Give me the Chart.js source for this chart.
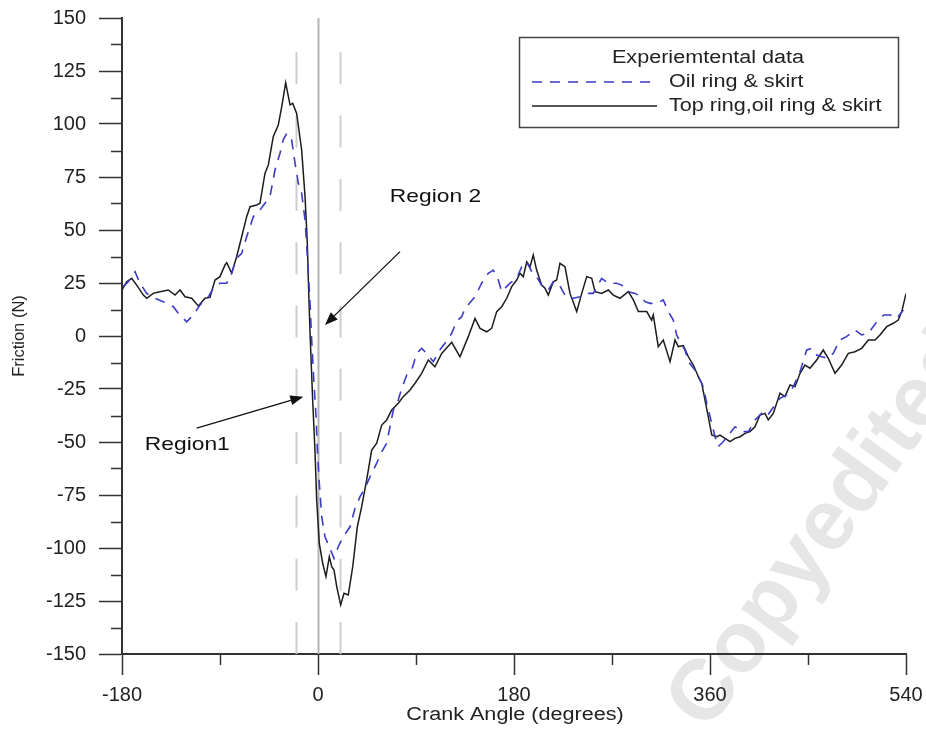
<!DOCTYPE html>
<html>
<head>
<meta charset="utf-8">
<script src="https://cdn.jsdelivr.net/npm/chart.js@4.4.1/dist/chart.umd.min.js"></script>
<style>
  html, body { margin: 0; padding: 0; background: #fff; }
  #wrap { width: 926px; height: 729px; }
</style>
</head>
<body>
<div id="wrap"><canvas id="c" width="926" height="729"></canvas></div>
<script>
// ── DATA ──────────────────────────────────
const seriesNames = ['Oil ring & skirt', 'Top ring,oil ring & skirt'];

const oilAngle = [
  -179, -174.2, -168.1, -163.5, -157.3, -149.7, -142.1, -132.9, -128.3, -120.6,
  -114.5, -108.4, -100.7, -96.2, -90, -83.8, -79.3, -74.7, -70.1, -65.5,
  -59.4, -53.3, -48.7, -44.1, -39.5, -34.9, -31.9, -28.7, -24.2, -21.1,
  -18.1, -15, -11.9, -9.5, -7.3, -5.8, -3.7, -1.8, -0.6, 1.2,
  3.4, 6.4, 10.4, 14.7, 18.6, 23.2, 29.4, 34, 38.6, 43.2,
  47.8, 53.9, 58.5, 63.1, 66.1, 69.2, 73.7, 76.9, 81.5, 86.1,
  90.6, 95.2, 99.8, 105.9, 112, 116.6, 122.8, 127.4, 132, 135,
  144.2, 150.3, 156.4, 161, 165.6, 168.7, 176.3, 182.5, 187.1, 191.7,
  196.3, 200.8, 206.9, 211.5, 216.1, 220.7, 228.4, 234.5, 240.6, 246.8,
  252.8, 260.5, 266.6, 274.3, 278.9, 285, 291.1, 297.3, 300.3, 304.9,
  311.1, 317.1, 321.7, 326.3, 329.4, 332.4, 337, 340.1, 346.2, 350.8,
  353.8, 357, 361.6, 364.6, 367.6, 372.3, 376.9, 383, 389.1, 395.2,
  401.3, 407.5, 412.1, 419.7, 424.3, 430.4, 436.5, 442.7, 448.8, 453.3,
  458, 462.6, 468.6, 473.2, 479.3, 485.4, 493.1, 499.3, 505.4, 513.1,
  519.6, 525.7, 531.5, 537.6
];
const oilFriction = [
  23.3, 25.6, 30.3, 24.9, 20.1, 17.8, 16.2, 13.8, 10.7, 6.7,
  9.9, 14.6, 18.5, 22.5, 24.9, 24.9, 29.6, 36.6, 39, 46.8,
  56.3, 59.4, 62.6, 65.7, 78.3, 86.2, 92.5, 95.6, 92.5, 81.5,
  72, 67.3, 54.7, 35.8, 15.4, -1.9, -22.3, -38, -53.8, -69.5,
  -85.2, -94.7, -99.4, -104.9, -99.4, -94.7, -90, -81.3, -75.8, -71.8,
  -66.4, -60, -54.6, -50.6, -42.8, -34.9, -30.2, -24.7, -18.4, -16,
  -8.2, -5.8, -8.2, -12.1, -6.5, -3.4, 1.3, 7, 9.1, 13,
  18.5, 24.9, 29.6, 31.1, 26.4, 20.9, 24.9, 27.2, 32.7, 35,
  30.3, 28, 22.5, 21.7, 25.6, 24.9, 17.8, 17.8, 18.5, 20.1,
  20.1, 27.2, 24.9, 24.9, 24, 20.9, 20.1, 18.5, 16.2, 15.4,
  15.4, 17, 11.5, 7.5, 0.5, -2.7, -6.6, -12.1, -16, -20.8,
  -23.9, -31.7, -41.2, -47.5, -52.2, -49.8, -46.7, -42.8, -45.1, -45.1,
  -39.6, -36.5, -38, -32.5, -29.4, -27.8, -23.9, -16.8, -6.6, -5.8,
  -9, -9.8, -10.5, -8.2, -1.9, -0.3, 2.8, 0.5, 1.3, 6.7,
  9.9, 9.9, 8.3, 12.3
];

const topAngle = [
  -180, -175.7, -171.1, -166.5, -160.4, -157.3, -151.3, -145.1, -137.5, -131.3,
  -126.7, -122.1, -116, -109.9, -103.8, -99.2, -94.6, -90, -85.4, -83.8,
  -79.3, -74.7, -70.1, -65.5, -62.4, -56.3, -53.3, -48.7, -45.6, -41.1,
  -36.5, -33.3, -29.7, -25.7, -23.2, -19.6, -15, -11.9, -9.8, -8.5,
  -7.2, -4.9, -2.8, -1.2, 1.2, 4.3, 7.3, 10.4, 12.6, 14.7,
  17.2, 20.8, 23.9, 27.8, 31.9, 36.1, 40.1, 44.7, 49.3, 53.9,
  58.5, 63.1, 67.7, 73.7, 78.3, 84.5, 89.1, 95.2, 101.3, 107.4,
  113.6, 122.8, 130.4, 138, 144.2, 148.8, 154.9, 159.5, 164.1, 168.7,
  173.3, 177.9, 182.5, 185.5, 188.5, 191.7, 194.7, 197.7, 200.8, 205.4,
  208.5, 211.5, 216.1, 219.2, 222.2, 226.8, 231.4, 237.6, 242.2, 246.8,
  251.4, 254.4, 260.5, 266.6, 271.2, 277.3, 285, 289.6, 294.2, 301.9,
  306.4, 307.9, 312.5, 317.1, 323.3, 327.9, 330.9, 335.5, 340.1, 344.7,
  349.3, 352.4, 355.4, 358.4, 361.6, 366.2, 369.2, 373.8, 378.4, 383,
  387.6, 392.2, 396.7, 401.3, 405.9, 410.5, 413.5, 418.1, 424.3, 428.9,
  433.5, 438.1, 442.7, 447.2, 451.8, 458, 464, 468.6, 474.8, 480.9,
  487, 493.1, 499.3, 505.4, 511.5, 516.1, 522.3, 528.3, 532.9, 536.1,
  540
];
const topFriction = [
  21.7, 25.6, 27.2, 24, 19.3, 17.8, 20.1, 20.9, 21.7, 19.3,
  21.7, 18.5, 17.8, 14.2, 17.8, 18.2, 26.4, 28, 33.5, 34.6,
  29.6, 37.4, 46.8, 56.3, 61, 61.8, 62.6, 76.7, 80.7, 94,
  99.5, 108.2, 119.5, 109, 109.7, 105, 87.7, 65.7, 43.7, 20,
  0, -30.2, -53.8, -77.4, -97.8, -107.2, -113.5, -104.1, -108.8, -110.4,
  -118.2, -126.9, -121.4, -122.2, -108.8, -90, -80.5, -67.9, -53.8, -50.6,
  -42, -39.6, -34.9, -31.7, -28.6, -25.5, -22.3, -17.6, -11.3, -14.5,
  -8.2, -3, -9.8, -0.3, 8.3, 3.6, 2, 3.6, 11.5, 13.8,
  17.8, 23.3, 26.4, 29.6, 28, 35, 32.7, 38.2, 31.1, 24,
  22.5, 19.3, 25.6, 26.4, 34.3, 32.7, 20.1, 11.5, 20.1, 28,
  27.2, 20.9, 20.1, 21.7, 19.3, 17.8, 20.9, 17, 11.5, 11.5,
  7.5, 9.9, -5, -1.9, -12.1, -1.9, -5, -4.5, -9.8, -13.7,
  -19.2, -22.3, -30.2, -38, -46.7, -47.5, -46.7, -48.3, -49.8, -48.3,
  -47.5, -45.9, -45.1, -42.8, -37.3, -36.5, -39.6, -36.5, -27, -28.6,
  -23.1, -23.9, -17.6, -13.7, -15.2, -11.3, -6.6, -10.5, -17.6, -13.7,
  -8.2, -7.4, -5.8, -1.9, -1.9, 0.5, 4.4, 6, 7.5, 11.5,
  20
];

// ticks and annotations (data units)
const xMin = -180, xMax = 540, xMajor = 180, xMinor = 90;
const yMin = -150, yMax = 150, yMajor = 25, yMinor = 12.5;
const regionAngles = [0, -20, 20];          // solid centre line, dashed bounds
const regionLabels = [
  { text: 'Region 2', x: 66, y: 65.5, from: [75.3, 39.8], to: [6.4, 5.2] },
  { text: 'Region1',  x: -159, y: -51.5, from: [-111.4, -43.5], to: [-13.5, -28.6] }
];

// ── HELPERS ───────────────────────────────
const FONT = '"Liberation Sans", Arial, sans-serif';
const WIDE = 1.2;   // the original figure is stretched sideways

function wideText(ctx, txt, x, y, align) {
  ctx.save();
  ctx.translate(x, y);
  ctx.scale(WIDE, 1);
  ctx.textAlign = align || 'left';
  ctx.textBaseline = 'middle';
  ctx.fillText(txt, 0, 0);
  ctx.restore();
}

function arrow(ctx, x1, y1, x2, y2) {
  const a = Math.atan2(y2 - y1, x2 - x1);
  const hl = 13, hw = 5;
  ctx.beginPath();
  ctx.moveTo(x1, y1);
  ctx.lineTo(x2 - Math.cos(a) * hl, y2 - Math.sin(a) * hl);
  ctx.stroke();
  ctx.beginPath();
  ctx.moveTo(x2, y2);
  ctx.lineTo(x2 - Math.cos(a) * hl - Math.sin(a) * hw, y2 - Math.sin(a) * hl + Math.cos(a) * hw);
  ctx.lineTo(x2 - Math.cos(a) * hl + Math.sin(a) * hw, y2 - Math.sin(a) * hl - Math.cos(a) * hw);
  ctx.closePath();
  ctx.fill();
}

// ── PLUGIN: watermark, region lines, ticks, texts, legend ──
const extras = {
  id: 'extras',
  beforeDraw(chart) {
    const ctx = chart.ctx;
    ctx.save();
    ctx.translate(707, 733);
    ctx.rotate(-54 * Math.PI / 180);
    ctx.font = 'bold 86px ' + FONT;
    ctx.fillStyle = '#e6e6e6';
    ctx.textBaseline = 'alphabetic';
    ctx.fillText('Copyedited', 0, 0);
    ctx.restore();
  },
  beforeDatasetsDraw(chart) {
    const ctx = chart.ctx, xs = chart.scales.x, ys = chart.scales.y;
    const bottom = ys.getPixelForValue(yMin);
    ctx.save();
    regionAngles.forEach((a, i) => {
      const px = Math.round(xs.getPixelForValue(a)) + 0.5;
      ctx.beginPath();
      if (i === 0) {
        ctx.strokeStyle = '#b4b4b4';
        ctx.lineWidth = 2;
        ctx.setLineDash([]);
        ctx.moveTo(px, ys.getPixelForValue(yMax));
      } else {
        ctx.strokeStyle = '#cdcdcd';
        ctx.lineWidth = 2;
        ctx.setLineDash([32, 31.3]);
        ctx.moveTo(px, bottom);
        ctx.lineTo(px, ys.getPixelForValue(134));
        ctx.stroke();
        return;
      }
      ctx.lineTo(px, bottom);
      ctx.stroke();
    });
    ctx.restore();
  },
  afterDraw(chart) {
    const ctx = chart.ctx, xs = chart.scales.x, ys = chart.scales.y;
    const area = chart.chartArea;
    ctx.save();

    // minor ticks
    ctx.strokeStyle = '#333';
    ctx.lineWidth = 1.5;
    ctx.beginPath();
    for (let v = yMin + yMinor; v < yMax; v += yMajor) {
      const py = Math.round(ys.getPixelForValue(v)) + 0.5;
      ctx.moveTo(area.left - 11, py);
      ctx.lineTo(area.left, py);
    }
    for (let v = xMin + xMinor; v < xMax; v += xMajor) {
      const px = Math.round(xs.getPixelForValue(v)) + 0.5;
      ctx.moveTo(px, area.bottom);
      ctx.lineTo(px, area.bottom + 11);
    }
    ctx.stroke();

    // axis titles
    ctx.fillStyle = '#222';
    ctx.font = '18px ' + FONT;
    wideText(ctx, 'Crank Angle (degrees)', (area.left + area.right) / 2 + 1, 715, 'center');
    ctx.save();
    ctx.translate(19, (area.top + area.bottom) / 2);
    ctx.rotate(-Math.PI / 2);
    ctx.font = '16.5px ' + FONT;
    ctx.textAlign = 'center';
    ctx.textBaseline = 'middle';
    ctx.fillText('Friction (N)', 0, 0);
    ctx.restore();

    // region labels and arrows
    ctx.strokeStyle = '#111';
    ctx.fillStyle = '#111';
    ctx.lineWidth = 1.3;
    ctx.font = '19px ' + FONT;
    regionLabels.forEach(r => {
      wideText(ctx, r.text, xs.getPixelForValue(r.x), ys.getPixelForValue(r.y), 'left');
      arrow(ctx,
        xs.getPixelForValue(r.from[0]), ys.getPixelForValue(r.from[1]),
        xs.getPixelForValue(r.to[0]),   ys.getPixelForValue(r.to[1]));
    });

    // legend box
    ctx.strokeStyle = '#444';
    ctx.lineWidth = 1.5;
    ctx.strokeRect(519.5, 37.5, 379, 90);
    ctx.fillStyle = '#222';
    ctx.font = '18px ' + FONT;
    wideText(ctx, 'Experiemtental data', 708, 58, 'center');
    const ds = chart.data.datasets;
    [82, 106].forEach((ly, i) => {
      ctx.beginPath();
      ctx.strokeStyle = ds[i].borderColor;
      ctx.lineWidth = ds[i].borderWidth;
      ctx.setLineDash(ds[i].borderDash || []);
      ctx.moveTo(532, ly);
      ctx.lineTo(i === 0 ? 650 : 657, ly);
      ctx.stroke();
      ctx.setLineDash([]);
      wideText(ctx, ds[i].label, 669, ly, 'left');
    });
    ctx.restore();
  }
};

// ── CHART ─────────────────────────────────
new Chart(document.getElementById('c'), {
  type: 'line',
  data: {
    datasets: [
      {
        label: seriesNames[0],
        data: oilAngle.map((a, i) => ({ x: a, y: oilFriction[i] })),
        borderColor: '#3b3bc6',
        borderWidth: 1.6,
        borderDash: [10, 8],
        pointRadius: 0,
        tension: 0
      },
      {
        label: seriesNames[1],
        data: topAngle.map((a, i) => ({ x: a, y: topFriction[i] })),
        borderColor: '#1c1c1c',
        borderWidth: 1.5,
        pointRadius: 0,
        tension: 0
      }
    ]
  },
  options: {
    responsive: false,
    animation: false,
    devicePixelRatio: 1,
    layout: { padding: { top: 18, right: 20, left: 0, bottom: 0 } },
    plugins: { legend: { display: false }, tooltip: { enabled: false } },
    scales: {
      x: {
        type: 'linear', min: xMin, max: xMax,
        afterFit: s => { s.height = 75; s.paddingLeft = 0; s.paddingRight = 0; },
        ticks: { stepSize: xMajor, color: '#222', padding: 8, maxRotation: 0,
                 font: { family: FONT, size: 20 } },
        grid: { drawOnChartArea: false, tickLength: 21, tickWidth: 1.5, tickColor: '#333' },
        border: { color: '#333', width: 2 }
      },
      y: {
        min: yMin, max: yMax,
        afterFit: s => { s.width = 122; s.paddingTop = 0; s.paddingBottom = 0; },
        ticks: { stepSize: yMajor, color: '#222', padding: 13,
                 font: { family: FONT, size: 20 } },
        grid: { drawOnChartArea: false, tickLength: 23, tickWidth: 1.5, tickColor: '#333' },
        border: { color: '#333', width: 2 }
      }
    }
  },
  plugins: [extras]
});
</script>
</body>
</html>
